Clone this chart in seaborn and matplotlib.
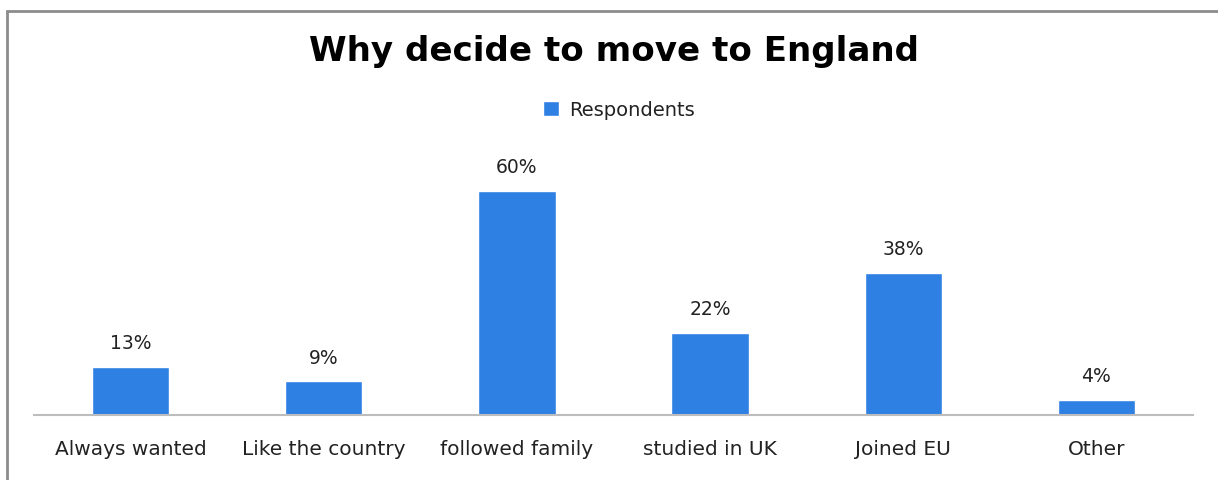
import matplotlib
matplotlib.use("Agg")
import matplotlib.pyplot as plt
from matplotlib.patches import Rectangle
import seaborn as sns
import pandas as pd

categories = ["Always wanted", "Like the country", "followed family",
              "studied in UK", "Joined EU", "Other"]
respondents = [13, 9, 60, 22, 38, 4]
series_name = "Respondents"

df = pd.DataFrame({"reason": categories, "share": respondents,
                   "series": [series_name] * len(categories)})

sns.set_theme(style="white")
plt.rcParams["font.family"] = ["DejaVu Sans"]

bar_color = "#2F80E3"
text_color = "#222222"

fig = plt.figure(figsize=(12.18, 4.8), dpi=100)
ax = fig.add_axes([34 / 1218, 1 - 415 / 480, 1159 / 1218, 261 / 480])

sns.barplot(data=df, x="reason", y="share", hue="series",
            palette=[bar_color], width=0.4, ax=ax, saturation=1)

ax.set_ylim(0, 70)
ax.set_xlim(-0.5, len(categories) - 0.5)
ax.set_xlabel("")
ax.set_ylabel("")
ax.set_yticks([])
for side in ["top", "right", "left"]:
    ax.spines[side].set_visible(False)
ax.spines["bottom"].set_color("#BDBDBD")
ax.spines["bottom"].set_linewidth(1.5)
ax.tick_params(axis="x", length=0, pad=18, labelsize=14.5, labelcolor=text_color)

for container in ax.containers:
    ax.bar_label(container, labels=[f"{v}%" for v in respondents],
                 padding=10, fontsize=13.5, color=text_color)

leg = ax.legend(loc="center", bbox_to_anchor=(619 / 1218, 1 - 110 / 480),
                bbox_transform=fig.transFigure, frameon=False, fontsize=14,
                handlelength=0.8, handleheight=0.8, handletextpad=0.5)
for t in leg.get_texts():
    t.set_color(text_color)

fig.text(614 / 1218, 1 - 51 / 480, "Why decide to move to England",
         ha="center", va="center", fontsize=24.6, fontweight="bold",
         color="#000000")

# outer chart frame
fig.patches.append(Rectangle((7 / 1218, -0.1), 1.2, 1 - 11 / 480 + 0.1,
                             transform=fig.transFigure, fill=False,
                             edgecolor="#8C8C8C", linewidth=2))

fig.savefig("out.png", dpi=100, facecolor="white")
